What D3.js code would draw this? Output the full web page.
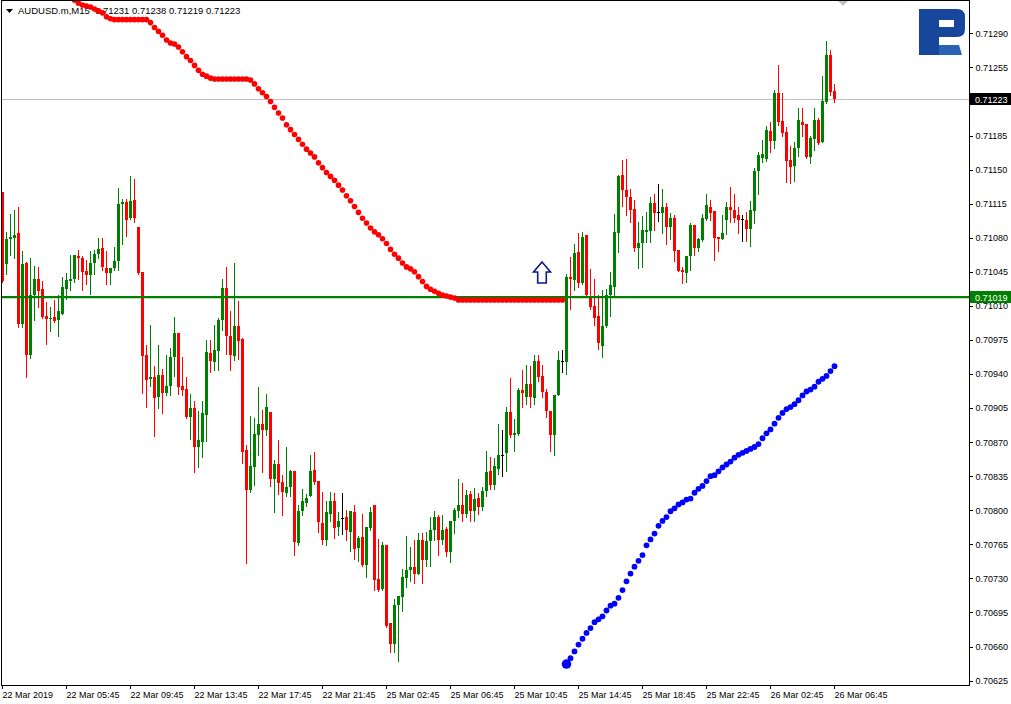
<!DOCTYPE html>
<html><head><meta charset="utf-8">
<script src="https://cdn.jsdelivr.net/npm/d3@7"></script>
<style>html,body{margin:0;padding:0;background:#fff;overflow:hidden}
text{font-family:"Liberation Sans",Arial,sans-serif;}</style>
</head><body>
<svg id="c" width="1011" height="704"></svg>
<script>
// ---- DATA (AUDUSD.m, M15) ----
const symbolTitle = "AUDUSD.m,M15  0.71231 0.71238 0.71219 0.71223";
const opens = [
0.71127,0.71053,0.71079,0.71080,0.71085,0.70991,0.71054,0.70960,0.71021,0.71038,
0.71027,0.71000,0.70996,0.70999,0.70995,0.71002,0.71027,0.71036,0.71038,0.71061,
0.71059,0.71046,0.71042,0.71054,0.71063,0.71069,0.71049,0.71044,0.71049,0.71056,
0.71115,0.71117,0.71100,0.71119,0.71091,0.71045,0.70959,0.70935,0.70937,0.70916,
0.70939,0.70920,0.70928,0.70957,0.70982,0.70928,0.70925,0.70896,0.70905,0.70865,
0.70870,0.70898,0.70962,0.70952,0.70964,0.70995,0.71028,0.70979,0.70958,0.70989,
0.70976,0.70862,0.70821,0.70844,0.70877,0.70889,0.70882,0.70901,0.70832,0.70848,
0.70829,0.70818,0.70824,0.70840,0.70766,0.70799,0.70807,0.70815,0.70841,0.70830,
0.70787,0.70769,0.70796,0.70809,0.70783,0.70792,0.70793,0.70778,0.70798,0.70761,
0.70773,0.70744,0.70782,0.70805,0.70729,0.70719,0.70764,0.70684,0.70663,0.70703,
0.70711,0.70730,0.70739,0.70742,0.70735,0.70769,0.70749,0.70768,0.70780,0.70793,
0.70769,0.70781,0.70757,0.70789,0.70799,0.70805,0.70796,0.70817,0.70799,0.70813,
0.70803,0.70820,0.70840,0.70826,0.70842,0.70857,0.70859,0.70901,0.70877,0.70878,
0.70924,0.70916,0.70930,0.70915,0.70953,0.70938,0.70922,0.70902,0.70877,0.70918,
0.70953,0.70952,0.71040,0.71037,0.71065,0.71033,0.71083,0.71020,0.71010,0.71000,
0.70969,0.70989,0.71021,0.71029,0.71085,0.71144,0.71129,0.71122,0.71109,0.71069,
0.71075,0.71086,0.71087,0.71116,0.71106,0.71105,0.71112,0.71091,0.71100,0.71067,
0.71047,0.71044,0.71061,0.71093,0.71069,0.71078,0.71099,0.71112,0.71107,0.71081,
0.71079,0.71098,0.71112,0.71108,0.71103,0.71099,0.71098,0.71089,0.71107,0.71149,
0.71162,0.71161,0.71190,0.71179,0.71229,0.71200,0.71189,0.71160,0.71154,0.71172,
0.71199,0.71197,0.71163,0.71181,0.71201,0.71178,0.71219,0.71268,0.71231];
const highs = [
0.71127,0.71086,0.71104,0.71108,0.71112,0.71066,0.71055,0.71059,0.71051,0.71050,
0.71036,0.71014,0.71009,0.71016,0.71021,0.71040,0.71044,0.71062,0.71062,0.71067,
0.71061,0.71057,0.71066,0.71067,0.71080,0.71080,0.71066,0.71049,0.71070,0.71131,
0.71120,0.71120,0.71143,0.71140,0.71091,0.71045,0.70970,0.70990,0.70948,0.70970,
0.70945,0.70960,0.70967,0.70999,0.70982,0.70957,0.70937,0.70919,0.70912,0.70902,
0.70912,0.70975,0.70975,0.70990,0.70998,0.71038,0.71050,0.71005,0.71054,0.71015,
0.70977,0.70867,0.70897,0.70895,0.70927,0.70903,0.70919,0.70901,0.70852,0.70872,
0.70836,0.70865,0.70841,0.70840,0.70805,0.70822,0.70817,0.70857,0.70860,0.70830,
0.70819,0.70809,0.70819,0.70818,0.70798,0.70818,0.70800,0.70799,0.70805,0.70774,
0.70796,0.70783,0.70803,0.70805,0.70770,0.70767,0.70764,0.70684,0.70709,0.70712,
0.70740,0.70774,0.70762,0.70769,0.70777,0.70777,0.70778,0.70793,0.70799,0.70795,
0.70795,0.70783,0.70789,0.70802,0.70832,0.70828,0.70821,0.70820,0.70823,0.70818,
0.70824,0.70861,0.70855,0.70854,0.70889,0.70882,0.70906,0.70936,0.70894,0.70926,
0.70944,0.70949,0.70948,0.70959,0.70960,0.70949,0.70925,0.70902,0.70918,0.70964,
0.70965,0.71043,0.71060,0.71074,0.71085,0.71086,0.71083,0.71048,0.71038,0.71021,
0.71026,0.71027,0.71045,0.71104,0.71144,0.71160,0.71161,0.71130,0.71119,0.71096,
0.71102,0.71106,0.71122,0.71125,0.71135,0.71130,0.71116,0.71105,0.71103,0.71067,
0.71050,0.71061,0.71095,0.71093,0.71080,0.71104,0.71125,0.71119,0.71107,0.71081,
0.71103,0.71117,0.71132,0.71125,0.71112,0.71103,0.71106,0.71118,0.71152,0.71168,
0.71180,0.71195,0.71199,0.71232,0.71257,0.71229,0.71194,0.71174,0.71178,0.71213,
0.71213,0.71197,0.71184,0.71213,0.71203,0.71246,0.71282,0.71273,0.71238];
const lows = [
0.71035,0.71043,0.71062,0.71059,0.70988,0.70988,0.70937,0.70956,0.70995,0.71009,
0.70998,0.70971,0.70984,0.70993,0.70979,0.71002,0.71017,0.71026,0.71034,0.71038,
0.71026,0.71032,0.71022,0.71043,0.71059,0.71047,0.71032,0.71032,0.71047,0.71047,
0.71074,0.71082,0.71099,0.71096,0.71043,0.70920,0.70906,0.70928,0.70876,0.70905,
0.70900,0.70918,0.70918,0.70938,0.70919,0.70918,0.70895,0.70873,0.70839,0.70844,
0.70855,0.70871,0.70942,0.70944,0.70944,0.70985,0.70961,0.70944,0.70954,0.70955,
0.70849,0.70746,0.70819,0.70826,0.70857,0.70839,0.70877,0.70825,0.70798,0.70817,
0.70795,0.70815,0.70815,0.70754,0.70764,0.70795,0.70804,0.70815,0.70827,0.70778,
0.70765,0.70764,0.70789,0.70771,0.70775,0.70776,0.70769,0.70758,0.70750,0.70748,
0.70743,0.70731,0.70780,0.70718,0.70717,0.70718,0.70680,0.70654,0.70654,0.70645,
0.70696,0.70721,0.70727,0.70725,0.70735,0.70725,0.70743,0.70743,0.70769,0.70754,
0.70765,0.70753,0.70747,0.70777,0.70793,0.70789,0.70793,0.70789,0.70789,0.70796,
0.70800,0.70815,0.70822,0.70822,0.70837,0.70835,0.70840,0.70875,0.70861,0.70877,
0.70906,0.70909,0.70906,0.70909,0.70933,0.70916,0.70896,0.70861,0.70857,0.70918,
0.70942,0.70940,0.71007,0.71026,0.71029,0.71032,0.71021,0.71007,0.70990,0.70966,
0.70957,0.70988,0.71000,0.71019,0.71065,0.71113,0.71103,0.71096,0.71066,0.71049,
0.71050,0.71076,0.71076,0.71088,0.71097,0.71085,0.71074,0.71079,0.71056,0.71046,
0.71033,0.71034,0.71047,0.71062,0.71066,0.71077,0.71098,0.71098,0.71057,0.71066,
0.71079,0.71084,0.71096,0.71096,0.71085,0.71077,0.71077,0.71071,0.71095,0.71125,
0.71158,0.71159,0.71168,0.71172,0.71196,0.71184,0.71137,0.71136,0.71138,0.71164,
0.71184,0.71162,0.71157,0.71170,0.71176,0.71178,0.71218,0.71227,0.71219];
const closes = [
0.71036,0.71079,0.71081,0.71083,0.70991,0.71053,0.70960,0.71021,0.71038,0.71025,
0.70999,0.70996,0.70998,0.70994,0.71005,0.71029,0.71037,0.71038,0.71062,0.71059,
0.71045,0.71042,0.71054,0.71063,0.71068,0.71050,0.71044,0.71049,0.71056,0.71115,
0.71117,0.71098,0.71118,0.71100,0.71044,0.70958,0.70934,0.70937,0.70915,0.70939,
0.70920,0.70928,0.70957,0.70982,0.70927,0.70924,0.70896,0.70905,0.70865,0.70872,
0.70900,0.70963,0.70953,0.70965,0.70995,0.71028,0.70979,0.70959,0.70989,0.70974,
0.70860,0.70821,0.70845,0.70878,0.70889,0.70882,0.70906,0.70832,0.70848,0.70828,
0.70819,0.70824,0.70840,0.70767,0.70799,0.70810,0.70813,0.70840,0.70829,0.70788,
0.70769,0.70798,0.70809,0.70782,0.70789,0.70792,0.70780,0.70799,0.70760,0.70772,
0.70744,0.70783,0.70798,0.70728,0.70718,0.70764,0.70681,0.70663,0.70703,0.70712,
0.70731,0.70739,0.70742,0.70735,0.70769,0.70749,0.70768,0.70780,0.70793,0.70769,
0.70780,0.70757,0.70789,0.70800,0.70805,0.70796,0.70816,0.70799,0.70812,0.70803,
0.70820,0.70839,0.70826,0.70845,0.70857,0.70857,0.70901,0.70877,0.70879,0.70924,
0.70920,0.70930,0.70916,0.70953,0.70937,0.70921,0.70902,0.70877,0.70918,0.70954,
0.70953,0.71040,0.71038,0.71064,0.71033,0.71081,0.71021,0.71009,0.70998,0.70972,
0.70989,0.71021,0.71031,0.71086,0.71143,0.71129,0.71122,0.71108,0.71069,0.71075,
0.71088,0.71088,0.71116,0.71105,0.71106,0.71112,0.71091,0.71100,0.71066,0.71046,
0.71045,0.71061,0.71093,0.71069,0.71079,0.71100,0.71114,0.71105,0.71080,0.71079,
0.71085,0.71112,0.71108,0.71100,0.71098,0.71099,0.71089,0.71108,0.71149,0.71165,
0.71166,0.71191,0.71179,0.71229,0.71199,0.71188,0.71159,0.71153,0.71172,0.71201,
0.71196,0.71163,0.71182,0.71201,0.71177,0.71220,0.71268,0.71230,0.71223];

// red trailing dots (bar 18 .. 140)
const redStartBar = 18;
const redDots = [
0.71324,0.71321,0.71319,0.71318,0.71317,0.71315,0.71313,0.71311,0.71307,0.71305,
0.71304,0.71304,0.71304,0.71304,0.71304,0.71304,0.71304,0.71304,0.71304,
0.71301,0.71296,0.71292,0.71288,0.71283,0.71280,0.71279,0.71276,0.71271,0.71266,
0.71262,0.71257,0.71252,0.71248,0.71246,0.71244,
0.71243,0.71243,0.71243,0.71243,0.71243,0.71243,0.71243,0.71243,0.71243,
0.71242,0.71238,0.71233,0.71229,0.71225,0.71220,0.71214,0.71208,
0.71203,0.71196,0.71191,0.71186,0.71181,0.71176,0.71171,0.71167,0.71163,0.71157,
0.71152,0.71147,0.71143,0.71139,0.71134,0.71129,0.71123,0.71118,0.71112,0.71106,
0.71100,0.71095,0.71090,0.71086,0.71083,0.71079,0.71074,0.71068,0.71063,0.71059,
0.71054,0.71050,0.71048,0.71045,0.71040,0.71035,0.71030,0.71027,0.71025,0.71023,
0.71021,0.71020,0.71019,0.71018,
0.71016,0.71016,0.71016,0.71016,0.71016,0.71016,0.71016,0.71016,0.71016,0.71016,
0.71016,0.71016,0.71016,0.71016,0.71016,0.71016,0.71016,0.71016,0.71016,0.71016,
0.71016,0.71016,0.71016,0.71016,0.71016,0.71016,0.71016];
// blue trailing dots (bar 141 .. 208)
const blueStartBar = 141;
const blueDots = [
0.70642,0.70648,0.70655,0.70662,0.70668,0.70674,0.70679,0.70685,0.70688,0.70691,
0.70697,0.70702,0.70704,0.70710,0.70718,0.70727,0.70735,0.70742,0.70748,0.70754,
0.70764,0.70770,0.70776,0.70784,0.70789,0.70793,0.70799,0.70802,0.70806,0.70808,
0.70811,0.70812,0.70818,0.70822,0.70825,0.70830,0.70835,0.70836,0.70840,0.70844,
0.70847,0.70850,0.70854,0.70857,0.70859,0.70861,0.70863,0.70865,0.70868,0.70874,
0.70879,0.70883,0.70889,0.70895,0.70900,0.70904,0.70906,0.70909,0.70913,0.70918,
0.70922,0.70924,0.70927,0.70932,0.70935,0.70938,0.70943,0.70948];

const priceTicks = [0.70625,0.70660,0.70695,0.70730,0.70765,0.70800,0.70835,0.70870,0.70905,0.70940,
  0.70975,0.71010,0.71045,0.71080,0.71115,0.71150,0.71185,0.71220,0.71255,0.71290];
const timeTickBars = [0,16,32,48,64,80,96,112,128,144,160,176,192,208];
const timeTickLabels = ["22 Mar 2019","22 Mar 05:45","22 Mar 09:45","22 Mar 13:45","22 Mar 17:45",
  "22 Mar 21:45","25 Mar 02:45","25 Mar 06:45","25 Mar 10:45","25 Mar 14:45","25 Mar 18:45",
  "25 Mar 22:45","26 Mar 02:45","26 Mar 06:45"];
const currentPrice = 0.71223;
const levelPrice = 0.71019;
const arrowBar = 135, arrowPrice = 0.71055;

// ---- LAYOUT ----
const W = 1011, H = 704;
const plotL = 1.5, plotR = 969.5, plotT = 0.5, plotB = 685.5;
const colUp = "#008000", colDn = "#ff0000";

const svg = d3.select("#c");
svg.append("rect").attr("width", W).attr("height", H).attr("fill", "#fff");

const x = d3.scaleLinear().domain([0, 208]).range([2.5, 834.5]);
const y = d3.scaleLinear().domain([0.70625, 0.71290]).range([680.6, 33.3]);

svg.append("defs").append("clipPath").attr("id", "plot")
  .append("rect").attr("x", 2).attr("y", 1).attr("width", plotR - 2).attr("height", plotB - 1);

// title
const tg = svg.append("g");
tg.append("path").attr("d", "M6,9 L13,9 L9.5,13 Z").attr("fill", "#000");
tg.append("text").attr("x", 18).attr("y", 14).attr("font-size", 9.5).attr("fill", "#000")
  .text(symbolTitle).attr("xml:space", "preserve");

// current price grey line
svg.append("line").attr("x1", plotL).attr("x2", plotR)
  .attr("y1", Math.round(y(currentPrice)) + 0.5).attr("y2", Math.round(y(currentPrice)) + 0.5)
  .attr("stroke", "#c0c0c0").attr("stroke-width", 1);

// candles
const bars = d3.range(opens.length).map(i => ({i, o: opens[i], h: highs[i], l: lows[i], c: closes[i]}));
const cg = svg.append("g").attr("clip-path", "url(#plot)").attr("shape-rendering", "crispEdges");
const colOf = d => d.c > d.o ? colUp : (d.c < d.o ? colDn : "#000");
cg.selectAll("line.w").data(bars).join("line")
  .attr("x1", d => x(d.i)).attr("x2", d => x(d.i))
  .attr("y1", d => Math.round(y(d.h))).attr("y2", d => Math.round(y(d.l)) + 1)
  .attr("stroke", colOf).attr("stroke-width", 1);
cg.selectAll("rect.b").data(bars).join("rect")
  .attr("x", d => x(d.i) - 1.5).attr("width", 3)
  .attr("y", d => Math.round(y(Math.max(d.o, d.c))))
  .attr("height", d => Math.max(1, Math.round(y(Math.min(d.o, d.c))) - Math.round(y(Math.max(d.o, d.c)))))
  .attr("fill", colOf);

// horizontal level line
svg.append("line").attr("x1", plotL).attr("x2", plotR)
  .attr("y1", y(levelPrice)).attr("y2", y(levelPrice))
  .attr("stroke", colUp).attr("stroke-width", 2.2);

// dots
const dg = svg.append("g").attr("clip-path", "url(#plot)");
dg.selectAll("circle.r").data(redDots.map((v, j) => ({i: redStartBar + j, v}))).join("circle")
  .attr("cx", d => x(d.i)).attr("cy", d => y(d.v)).attr("r", 2.8).attr("fill", "#ff0000");
dg.selectAll("circle.bl").data(blueDots.map((v, j) => ({i: blueStartBar + j, v}))).join("circle")
  .attr("cx", d => x(d.i)).attr("cy", d => y(d.v)).attr("r", (d, j) => j === 0 ? 4.8 : 2.9).attr("fill", "#0000ff");

// arrow
const ax = x(arrowBar) - 0.5, ay = y(arrowPrice);
svg.append("path")
  .attr("d", `M${ax},${ay} L${ax + 8.5},${ay + 10} L${ax + 4.3},${ay + 10} L${ax + 4.3},${ay + 21} L${ax - 4.3},${ay + 21} L${ax - 4.3},${ay + 10} L${ax - 8.5},${ay + 10} Z`)
  .attr("fill", "#fff").attr("stroke", "#0a1a8c").attr("stroke-width", 1.6).attr("stroke-linejoin", "miter");

// plot frame
svg.append("rect").attr("x", plotL).attr("y", plotT).attr("width", plotR - plotL).attr("height", plotB - plotT)
  .attr("fill", "none").attr("stroke", "#000").attr("stroke-width", 1).attr("shape-rendering", "crispEdges");

// axes (the 0.71220 label sits under the current-price tag, as in the terminal)
const hiddenTick = 0.71220;
const yAxis = d3.axisRight(y).tickValues(priceTicks).tickSize(3).tickPadding(3)
  .tickFormat(d => Math.abs(d - hiddenTick) < 1e-9 ? "" : d3.format(".5f")(d));
const ya = svg.append("g").attr("transform", `translate(${plotR},0)`).call(yAxis);
const xAxis = d3.axisBottom(x).tickValues(timeTickBars).tickSize(3).tickPadding(3)
  .tickFormat((d, i) => timeTickLabels[i]);
const xa = svg.append("g").attr("transform", `translate(0,${plotB})`).call(xAxis);
[ya, xa].forEach(g => {
  g.select(".domain").remove();
  g.selectAll("line").attr("stroke", "#000").attr("shape-rendering", "crispEdges");
  g.selectAll("text").attr("font-family", "Liberation Sans, Arial, sans-serif").attr("font-size", 9).attr("fill", "#000");
});
xa.selectAll(".tick line").attr("transform", "translate(-0.5,0)");
xa.selectAll("text").attr("text-anchor", "start").attr("x", -0.5);

// price labels
function priceTag(p, bg) {
  const yy = Math.round(y(p));
  svg.append("rect").attr("x", 970).attr("y", yy - 6).attr("width", 41).attr("height", 12).attr("fill", bg);
  svg.append("text").attr("x", 975).attr("y", yy + 3.5).attr("font-size", 9).attr("fill", "#fff").text(d3.format(".5f")(p));
}
priceTag(currentPrice, "#000");
priceTag(levelPrice, colUp);

// shift marker
svg.append("path").attr("d", "M838,1 L848,1 L843,6 Z").attr("fill", "#c0c0c0");

// logo
const lg = svg.append("g");
lg.append("path").attr("fill-rule", "evenodd").attr("fill", "#16479a")
  .attr("d", "M919,9 H957 Q965,9 965,17 V29 Q965,37 957,37 H939 V55 H919 Z M939,20 H954 V27 H939 Z");
lg.append("path").attr("fill", "#2a62b4").attr("d", "M939,45 H959 L962,55 H939 Z");
</script>
</body></html>
